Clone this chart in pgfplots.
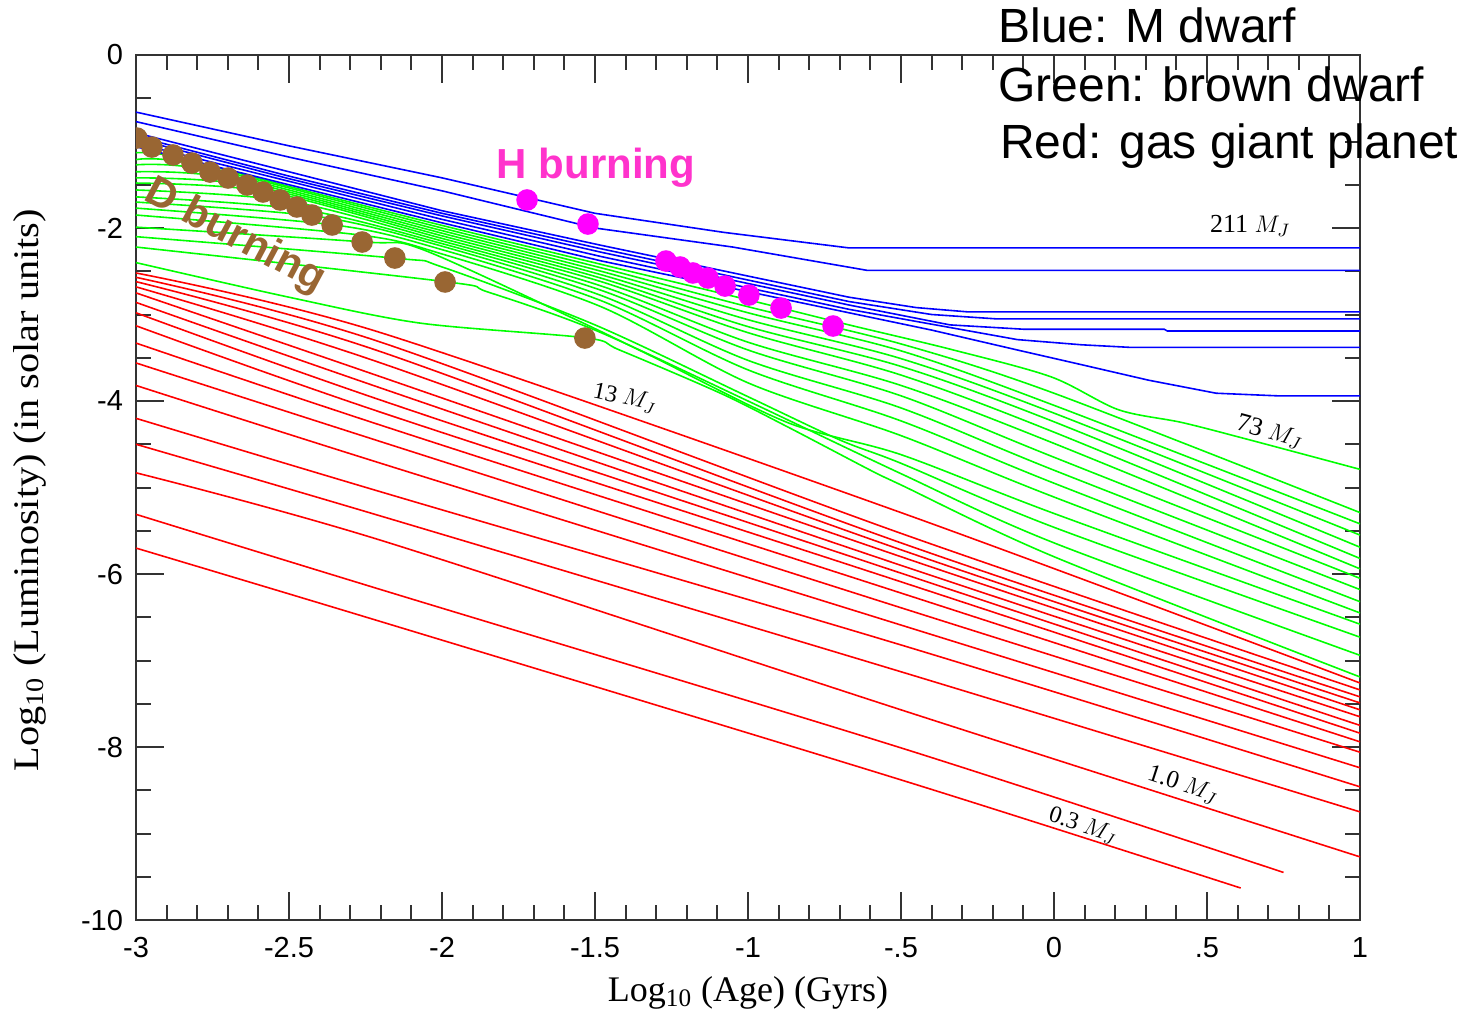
\documentclass[border=0pt]{standalone}
\usepackage{fontspec}
\setmainfont{Liberation Sans}
\newfontfamily\labelfont{Liberation Serif}
\usepackage{pgfplots}
\pgfplotsset{compat=1.18}
\definecolor{bdot}{RGB}{153,102,51}
\definecolor{hdot}{RGB}{255,0,255}
\definecolor{htext}{RGB}{255,51,204}
\definecolor{cB}{RGB}{0,0,255}
\definecolor{cG}{RGB}{0,255,0}
\definecolor{cR}{RGB}{255,0,0}
\begin{document}
\begin{tikzpicture}
\begin{axis}[
  scale only axis,
  width=612pt, height=432.5pt,
  xmin=-3, xmax=1, ymin=-10, ymax=0,
  xtick={-3,-2.5,-2,-1.5,-1,-0.5,0,0.5,1},
  xticklabels={-3,-2.5,-2,-1.5,-1,-.5,0,.5,1},
  ytick={-10,-8,-6,-4,-2,0},
  yticklabels={-10,-8,-6,-4,-2,0},
  minor x tick num=4,
  minor y tick num=3,
  xtick pos=both, ytick pos=both,
  tick align=inside,
  major tick length=14pt, minor tick length=7.5pt,
  tick style={black!80, line width=1pt},
  axis line style={black!80, line width=1.2pt},
  tick label style={font=\fontsize{14.5}{16}\selectfont},
  xticklabel style={yshift=-5pt},
  yticklabel style={xshift=-3pt},
  clip mode=individual,
  clip marker paths=true,
  every axis plot/.append style={line width=0.8pt},
]
% ---------------- red: gas giant planets ----------------
\addplot[cR, no marks, smooth, tension=0.5] coordinates {(-3,-2.52) (-2.2,-3.21) (-0.5,-5.29) (1,-7.26)};
\addplot[cR, no marks, smooth, tension=0.5] coordinates {(-3,-2.57) (-2.2,-3.32) (-0.5,-5.53) (1,-7.34)};
\addplot[cR, no marks, smooth, tension=0.5] coordinates {(-3,-2.62) (-2.2,-3.43) (-0.5,-5.64) (1,-7.42)};
\addplot[cR, no marks, smooth, tension=0.5] coordinates {(-3,-2.68) (-2.2,-3.56) (-0.5,-5.72) (1,-7.49)};
\addplot[cR, no marks, smooth, tension=0.5] coordinates {(-3,-2.75) (-2.2,-3.72) (-0.5,-5.80) (1,-7.57)};
\addplot[cR, no marks, smooth, tension=0.5] coordinates {(-3,-2.86) (-2.2,-3.85) (-0.5,-5.90) (1,-7.65)};
\addplot[cR, no marks, smooth, tension=0.5] coordinates {(-3,-2.98) (-2.2,-3.99) (-0.5,-5.99) (1,-7.75)};
\addplot[cR, no marks, smooth, tension=0.5] coordinates {(-3,-3.13) (-2.2,-4.13) (-0.5,-6.09) (1,-7.84)};
\addplot[cR, no marks, smooth, tension=0.5] coordinates {(-3,-3.33) (-2.2,-4.28) (-0.5,-6.22) (1,-7.94)};
\addplot[cR, no marks, smooth, tension=0.5] coordinates {(-3,-3.56) (-2.2,-4.47) (-0.5,-6.39) (1,-8.06)};
\addplot[cR, no marks, smooth, tension=0.5] coordinates {(-3,-3.82) (-2.2,-4.72) (-0.5,-6.59) (1,-8.24)};
\addplot[cR, no marks, smooth, tension=0.5] coordinates {(-3,-4.20) (-2.2,-5.05) (-0.5,-6.82) (1,-8.46)};
\addplot[cR, no marks, smooth, tension=0.5] coordinates {(-3,-4.50) (-2.2,-5.33) (-0.5,-7.13) (1,-8.75)};
\addplot[cR, no marks, smooth, tension=0.5] coordinates {(-3,-4.83) (-2.2,-5.61) (-0.5,-7.57) (1,-9.27)};
\addplot[cR, no marks, smooth, tension=0.5] coordinates {(-3,-5.31) (-2.2,-6.18) (-0.5,-8.01) (0.75,-9.45)};
\addplot[cR, no marks, smooth, tension=0.5] coordinates {(-3,-5.70) (-2.2,-6.55) (-0.5,-8.38) (0.61,-9.63)};
% ---------------- green: brown dwarfs ----------------
\addplot[cG, no marks, smooth, tension=0.5] coordinates {(-3,-1.13) (-2.88,-1.17) (-2.5,-1.52) (-2.0,-1.97) (-1.48,-2.42) (-1.0,-2.83) (-0.67,-3.12) (-0.34,-3.40) (-0.01,-3.72) (0.21,-4.10) (0.42,-4.25) (0.64,-4.45) (1,-4.79)};
\addplot[cG, no marks, smooth, tension=0.5] coordinates {(-3,-1.21) (-2.80,-1.27) (-2.0,-2.00) (-1.48,-2.46) (-1.0,-2.91) (-0.5,-3.34) (0,-3.91) (1,-5.29)};
\addplot[cG, no marks, smooth, tension=0.5] coordinates {(-3,-1.27) (-2.75,-1.34) (-2.0,-2.03) (-1.48,-2.50) (-1.0,-2.98) (-0.5,-3.42) (0,-4.05) (1,-5.42)};
\addplot[cG, no marks, smooth, tension=0.5] coordinates {(-3,-1.35) (-2.68,-1.43) (-2.0,-2.06) (-1.48,-2.54) (-1.0,-3.06) (-0.5,-3.51) (0,-4.14) (1,-5.55)};
\addplot[cG, no marks, smooth, tension=0.5] coordinates {(-3,-1.42) (-2.62,-1.51) (-2.0,-2.09) (-1.48,-2.58) (-1.0,-3.14) (-0.5,-3.60) (0,-4.24) (1,-5.69)};
\addplot[cG, no marks, smooth, tension=0.5] coordinates {(-3,-1.48) (-2.57,-1.58) (-2.0,-2.12) (-1.48,-2.62) (-1.0,-3.21) (-0.5,-3.70) (0,-4.36) (1,-5.82)};
\addplot[cG, no marks, smooth, tension=0.5] coordinates {(-3,-1.56) (-2.50,-1.69) (-2.0,-2.15) (-1.48,-2.67) (-1.0,-3.32) (-0.5,-3.82) (0,-4.49) (1,-5.94)};
\addplot[cG, no marks, smooth, tension=0.5] coordinates {(-3,-1.64) (-2.45,-1.79) (-2.0,-2.18) (-1.48,-2.72) (-1.0,-3.41) (-0.5,-3.94) (0,-4.65) (1,-6.05)};
\addplot[cG, no marks, smooth, tension=0.5] coordinates {(-3,-1.70) (-2.40,-1.87) (-2.0,-2.21) (-1.48,-2.78) (-1.0,-3.53) (-0.5,-4.08) (0,-4.80) (1,-6.18)};
\addplot[cG, no marks, smooth, tension=0.5] coordinates {(-3,-1.77) (-2.34,-1.97) (-2.0,-2.25) (-1.48,-2.84) (-1.0,-3.64) (-0.5,-4.23) (0,-4.95) (1,-6.32)};
\addplot[cG, no marks, smooth, tension=0.5] coordinates {(-3,-1.85) (-2.27,-2.08) (-2.0,-2.30) (-1.48,-2.91) (-1.0,-3.79) (-0.5,-4.40) (0,-5.11) (1,-6.45)};
\addplot[cG, no marks, smooth, tension=0.5] coordinates {(-3,-1.99) (-2.26,-2.16) (-2.07,-2.24) (-1.58,-3.03) (-1.31,-3.49) (-0.87,-4.25) (-0.5,-4.62) (0,-5.30) (1,-6.58)};
\addplot[cG, no marks, smooth, tension=0.5] coordinates {(-3,-2.10) (-2.15,-2.35) (-2.0,-2.45) (-1.5,-3.12) (-1.0,-3.95) (-0.7,-4.45) (-0.5,-4.72) (0,-5.46) (1,-6.73)};
\addplot[cG, no marks, smooth, tension=0.5] coordinates {(-3,-2.22) (-1.99,-2.62) (-1.85,-2.74) (-1.5,-3.18) (-1.0,-4.00) (-0.5,-4.84) (0,-5.64) (1,-6.94)};
\addplot[cG, no marks, smooth, tension=0.5] coordinates {(-3,-2.40) (-2.5,-2.80) (-2.07,-3.10) (-1.53,-3.27) (-1.42,-3.41) (-1.09,-3.91) (-0.87,-4.30) (-0.6,-4.80) (-0.5,-4.97) (0,-5.80) (1,-7.19)};
% ---------------- blue: M dwarfs ----------------
\addplot[cB, no marks] coordinates {(-3,-0.66) (-2.5,-1.05) (-2,-1.42) (-1.5,-1.83) (-1.08,-2.05) (-0.67,-2.23) (1,-2.23)};
\addplot[cB, no marks] coordinates {(-3,-0.77) (-2.5,-1.18) (-2,-1.57) (-1.5,-2.00) (-1.05,-2.22) (-0.61,-2.49) (1,-2.49)};
\addplot[cB, no marks] coordinates {(-3,-0.90) (-2.5,-1.35) (-2,-1.80) (-1.48,-2.20) (-0.67,-2.80) (-0.45,-2.92) (-0.28,-2.97) (1,-2.97)};
\addplot[cB, no marks] coordinates {(-3,-0.94) (-2.5,-1.40) (-2,-1.83) (-1.48,-2.24) (-0.67,-2.85) (-0.40,-3.00) (-0.19,-3.05) (1,-3.05)};
\addplot[cB, no marks] coordinates {(-3,-0.97) (-2.5,-1.43) (-2,-1.86) (-1.48,-2.28) (-0.67,-2.89) (-0.34,-3.12) (-0.10,-3.17) (0.36,-3.17) (0.37,-3.19) (1,-3.19)};
\addplot[cB, no marks] coordinates {(-3,-1.02) (-2.5,-1.46) (-2,-1.90) (-1.48,-2.33) (-0.67,-2.94) (-0.12,-3.29) (0.09,-3.35) (0.25,-3.38) (1,-3.38)};
\addplot[cB, no marks] coordinates {(-3,-1.06) (-2.5,-1.50) (-2,-1.94) (-1.48,-2.38) (-0.67,-2.98) (-0.40,-3.18) (-0.12,-3.41) (0.09,-3.58) (0.31,-3.76) (0.53,-3.91) (0.73,-3.94) (1,-3.94)};
% ---------------- D burning dots ----------------
\addplot[only marks, mark=*, mark size=5pt, mark options={draw=bdot, fill=bdot}] coordinates {
(-2.997,-0.960) (-2.948,-1.064) (-2.879,-1.156) (-2.817,-1.249) (-2.758,-1.353) (-2.699,-1.422) (-2.637,-1.503) (-2.585,-1.584) (-2.529,-1.676) (-2.474,-1.757) (-2.425,-1.850) (-2.359,-1.965) (-2.261,-2.162) (-2.154,-2.347) (-1.990,-2.624) (-1.533,-3.272)};
% ---------------- H burning dots ----------------
\addplot[only marks, mark=*, mark size=5pt, mark options={draw=hdot, fill=hdot}] coordinates {
(-1.722,-1.676) (-1.523,-1.954) (-1.268,-2.382) (-1.222,-2.451) (-1.180,-2.520) (-1.131,-2.578) (-1.075,-2.671) (-0.997,-2.775) (-0.892,-2.925) (-0.722,-3.133)};
% ---------------- annotations ----------------
\node[font=\labelfont\fontsize{13}{14}\selectfont] at (axis cs:0.641,-1.977) {211 $M_J$};
\node[font=\labelfont\fontsize{13}{14}\selectfont, rotate=-15] at (axis cs:0.706,-4.36) {73 $M_J$};
\node[font=\labelfont\fontsize{12}{14}\selectfont, rotate=-12] at (axis cs:-1.402,-3.965) {13 $M_J$};
\node[font=\labelfont\fontsize{12.5}{14}\selectfont, rotate=-18] at (axis cs:0.422,-8.44) {1.0 $M_J$};
\node[font=\labelfont\fontsize{12}{14}\selectfont, rotate=-18] at (axis cs:0.095,-8.91) {0.3 $M_J$};
\node[font=\bfseries\fontsize{21}{24}\selectfont, text=htext] at (axis cs:-1.497,-1.306) {H burning};
\node[font=\bfseries\fontsize{21}{24}\selectfont, text=bdot, rotate=-28] at (axis cs:-2.676,-2.10) {D burning};
\node[anchor=base west, inner sep=0pt, font=\fontsize{24}{28}\selectfont] at (rel axis cs:0.7042,1.0139) {Blue: M dwarf};
\node[anchor=base west, inner sep=0pt, font=\fontsize{24}{28}\selectfont] at (rel axis cs:0.7042,0.9468) {Green: brown dwarf};
\node[anchor=base west, inner sep=0pt, font=\fontsize{24}{28}\selectfont] at (rel axis cs:0.7058,0.8798) {Red: gas giant planet};
\node[rotate=90, font=\labelfont\fontsize{18}{20}\selectfont] at (rel axis cs:-0.0866,0.497) {\scalebox{1.12}[1]{Log\textsubscript{10} (Luminosity) (in solar units)}};
\node[font=\labelfont\fontsize{18}{20}\selectfont] at (rel axis cs:0.5,-0.0844) {Log\textsubscript{10} (Age) (Gyrs)};
\coordinate (bbA) at (rel axis cs:-0.1111,-0.1087);
\coordinate (bbB) at (rel axis cs:1.0817,1.0636);
\end{axis}
\path (bbA) rectangle (bbB);
\end{tikzpicture}
\end{document}
